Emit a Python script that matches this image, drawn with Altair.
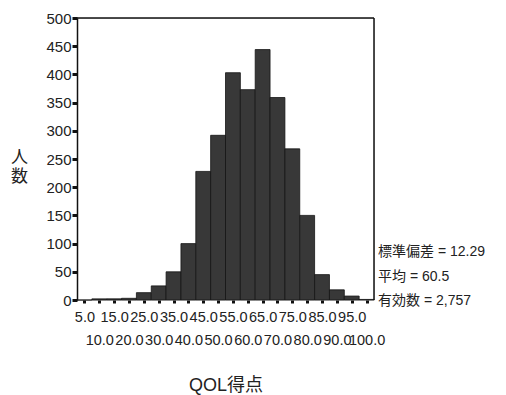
import altair as alt
import pandas as pd

# Histogram data (bin centers and counts)
bin_centers = [5, 10, 15, 20, 25, 30, 35, 40, 45, 50, 55, 60, 65, 70, 75, 80, 85, 90, 95, 100]
counts = [0, 2, 2, 3, 13, 25, 50, 100, 228, 292, 403, 373, 444, 359, 268, 150, 45, 18, 7, 1]
x_ticks = [5, 10, 15, 20, 25, 30, 35, 40, 45, 50, 55, 60, 65, 70, 75, 80, 85, 90, 95, 100]
y_ticks = [0, 50, 100, 150, 200, 250, 300, 350, 400, 450, 500]
stats_lines = ["標準偏差 = 12.29", "平均 = 60.5", "有効数 = 2,757"]

FONT = "Liberation Sans, Arial, Noto Sans CJK JP"
W, H = 297, 282

df = pd.DataFrame({"center": bin_centers, "count": counts})

xscale = alt.Scale(domain=[2.5, 102.5], nice=False, zero=False)
yscale = alt.Scale(domain=[0, 500], nice=False)

bars = alt.Chart(df).transform_calculate(
    lo="datum.center - 2.5", hi="datum.center + 2.5"
).mark_bar(color="#383838", stroke="#141414", strokeWidth=0.8).encode(
    x=alt.X("lo:Q", scale=xscale,
            axis=alt.Axis(values=x_ticks, format=".1f", title="QOL得点",
                          domain=False, grid=False,
                          tickSize=3, tickWidth=3, tickColor="#111",
                          labelFontSize=14.5, labelFont=FONT, labelColor="#222",
                          labelOverlap=False, labelFlush=False, labelBound=False,
                          labelPadding=alt.ConditionalAxisNumber(
                              condition={"test": "datum.value % 10 == 0", "value": 30},
                              value=7),
                          titleFont=FONT, titleFontSize=18, titleFontWeight="normal",
                          titleColor="#222", titleY=85, titleBaseline="middle")),
    x2="hi:Q",
    y=alt.Y("count:Q", scale=yscale,
            axis=alt.Axis(values=y_ticks, title=["人", "数"], grid=False,
                          domain=True, domainColor="#111", domainWidth=1.5,
                          tickSize=5, tickWidth=3, tickColor="#111",
                          labelFontSize=15, labelFont=FONT, labelColor="#222",
                          labelPadding=1,
                          titleFont=FONT, titleFontSize=17, titleFontWeight="normal",
                          titleColor="#222", titleAngle=0, titleAlign="center",
                          titleBaseline="middle", titleLineHeight=19,
                          titleX=-58, titleY=139)),
    y2=alt.Y2(datum=0),
)

frame_top = alt.Chart(pd.DataFrame({"a": [0]})).mark_rule(color="#111", strokeWidth=1.5).encode(
    x=alt.value(0), x2=alt.value(W), y=alt.value(0))
frame_right = alt.Chart(pd.DataFrame({"a": [0]})).mark_rule(color="#111", strokeWidth=1.5).encode(
    x=alt.value(W), y=alt.value(0), y2=alt.value(H))

stats = alt.Chart(pd.DataFrame({"a": [0]})).mark_text(
    align="left", baseline="top", fontSize=14, font=FONT, color="#222", lineHeight=24.5
).encode(x=alt.value(W + 4), y=alt.value(227), text=alt.value(stats_lines))

chart = alt.layer(bars, frame_top, frame_right, stats).properties(
    width=W, height=H,
    autosize=alt.AutoSizeParams(type="none"),
    padding={"left": 77, "top": 18, "right": 506 - 77 - W, "bottom": 395 - 18 - H},
).configure_view(stroke=None).configure(background="white")

chart.save("out.html", embed_options={"renderer": "svg", "actions": False})
